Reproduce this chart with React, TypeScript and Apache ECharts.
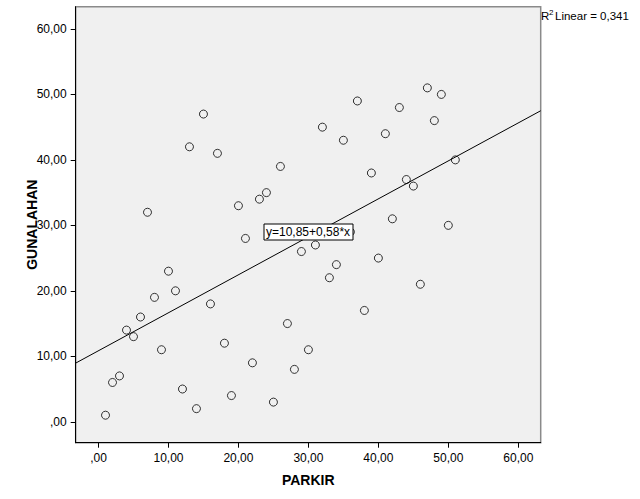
import React, { useEffect, useRef } from "react";
import * as echarts from "echarts";

const parkir = [1, 2, 3, 4, 5, 6, 7, 8, 9, 10, 11, 12, 13, 14, 15, 16, 17, 18, 19, 20, 21, 22, 23, 24, 25, 26, 27, 28, 29, 30, 31, 32, 33, 34, 35, 36, 37, 38, 39, 40, 41, 42, 43, 44, 45, 46, 47, 48, 49, 50, 51];
const gunalahan = [1, 6, 7, 14, 13, 16, 32, 19, 11, 23, 20, 5, 42, 2, 47, 18, 41, 12, 4, 33, 28, 9, 34, 35, 3, 39, 15, 8, 26, 11, 27, 45, 22, 24, 43, 29, 49, 17, 38, 25, 44, 31, 48, 37, 36, 21, 51, 46, 50, 30, 40];
const tickValues = [0, 10, 20, 30, 40, 50, 60];
const fitIntercept = 10.85;
const fitSlope = 0.58;
const rSquared = "0,341";
const xRange = [-3.26, 63.2];
const yRange = [-3.2, 63.4];

const FONT = '"Liberation Sans", Arial, sans-serif';

const fmt = (v: number) => {
  if (v === 0) return ",00";
  return v.toFixed(2).replace(".", ",");
};

export default function App() {
  const ref = useRef<HTMLDivElement>(null);
  useEffect(() => {
    document.body.style.margin = "0";
    const chart = echarts.init(ref.current!, undefined, { renderer: "svg" });
    const points = parkir.map((x, i) => [x, gunalahan[i]]);
    const lineData = [
      [xRange[0], fitIntercept + fitSlope * xRange[0]],
      [xRange[1], fitIntercept + fitSlope * xRange[1]],
    ];
    chart.setOption({
      animation: false,
      backgroundColor: "#ffffff",
      textStyle: { fontFamily: FONT },
      grid: {
        left: 75.7,
        right: 99.3,
        top: 6.7,
        bottom: 56.3,
        show: true,
        backgroundColor: "#f0f0f0",
        borderColor: "#8a8a8a",
        borderWidth: 1.5,
      },
      xAxis: {
        type: "value",
        min: xRange[0],
        max: xRange[1],
        name: "PARKIR",
        nameLocation: "middle",
        nameGap: 30,
        nameMoveOverlap: false,
        nameTextStyle: { fontFamily: FONT, fontSize: 14, fontWeight: "bold", color: "#000" },
        axisLine: { show: true, onZero: false, lineStyle: { color: "#000", width: 1 } },
        axisTick: { show: true, length: 5, customValues: tickValues, lineStyle: { color: "#000" } },
        axisLabel: {
          customValues: tickValues,
          formatter: fmt,
          fontFamily: FONT,
          fontSize: 12,
          color: "#000",
          margin: 9,
        },
        splitLine: { show: false },
      },
      yAxis: {
        type: "value",
        min: yRange[0],
        max: yRange[1],
        name: "GUNALAHAN",
        nameLocation: "middle",
        nameGap: 37,
        nameMoveOverlap: false,
        nameRotate: 90,
        nameTextStyle: { fontFamily: FONT, fontSize: 14, fontWeight: "bold", color: "#000" },
        axisLine: { show: true, onZero: false, lineStyle: { color: "#000", width: 1 } },
        axisTick: { show: true, length: 5, customValues: tickValues, lineStyle: { color: "#000" } },
        axisLabel: {
          customValues: tickValues,
          formatter: fmt,
          fontFamily: FONT,
          fontSize: 12,
          color: "#000",
          margin: 9,
        },
        splitLine: { show: false },
      },
      series: [
        {
          type: "line",
          data: lineData,
          symbol: "none",
          lineStyle: { color: "#000", width: 1 },
          silent: true,
          z: 1,
        },
        {
          type: "scatter",
          data: points,
          symbol: "circle",
          symbolSize: 8,
          itemStyle: { color: "rgba(0,0,0,0)", borderColor: "#000", borderWidth: 1 },
          z: 2,
        },
      ],
      graphic: [
        {
          type: "rect",
          z: 100,
          shape: { x: 264, y: 224, width: 89, height: 16 },
          style: { fill: "#ffffff", stroke: "#000", lineWidth: 1 },
        },
        {
          type: "text",
          z: 101,
          x: 266,
          y: 232,
          style: {
            text: "y=10,85+0,58*x",
            font: `12px ${FONT}`,
            fill: "#000",
            verticalAlign: "middle",
            align: "left",
          },
        },
        {
          type: "text",
          z: 101,
          x: 541,
          y: 16,
          style: {
            text: "R",
            font: `11.5px ${FONT}`,
            fill: "#000",
            verticalAlign: "middle",
            align: "left",
          },
        },
        {
          type: "text",
          z: 101,
          x: 549,
          y: 12,
          style: {
            text: "2",
            font: `8px ${FONT}`,
            fill: "#000",
            verticalAlign: "middle",
            align: "left",
          },
        },
        {
          type: "text",
          z: 101,
          x: 555,
          y: 16,
          style: {
            text: "Linear = " + rSquared,
            font: `11.5px ${FONT}`,
            fill: "#000",
            verticalAlign: "middle",
            align: "left",
          },
        },
      ],
    });
    return () => chart.dispose();
  }, []);
  return <div ref={ref} style={{ width: 640, height: 499 }} />;
}
